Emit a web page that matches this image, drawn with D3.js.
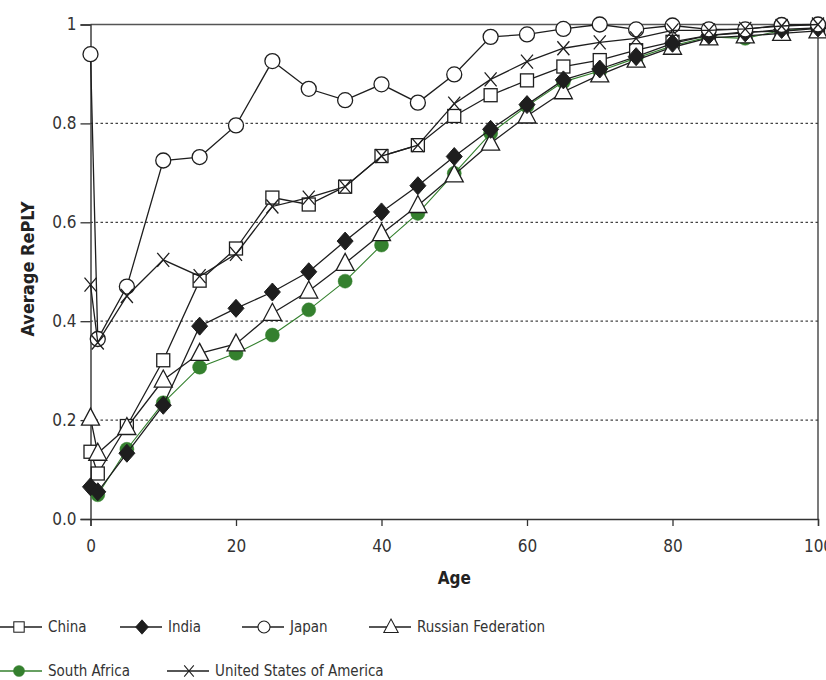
<!DOCTYPE html>
<html>
<head>
<meta charset="utf-8">
<script src="https://cdn.jsdelivr.net/npm/d3@7"></script>
<style>
  body { margin: 0; background: #fff; }
  svg { font-family: "Liberation Sans Narrow", "DejaVu Sans Condensed", "Arial Narrow", sans-serif; }
</style>
</head>
<body>
<svg id="canvas" width="826" height="680"></svg>
<script>
// ages on the x axis
const ages = [0, 1, 5, 10, 15, 20, 25, 30, 35, 40, 45, 50, 55, 60, 65, 70, 75, 80, 85, 90, 95, 100]
const xTicks = [0, 20, 40, 60, 80, 100]
const yTicks = [0, 0.2, 0.4, 0.6, 0.8, 1]
const yTickLabels = ['0.0', '0.2', '0.4', '0.6', '0.8', '1']

const china = [0.136, 0.092, 0.188, 0.321, 0.482, 0.547, 0.650, 0.636, 0.672, 0.734, 0.756, 0.815, 0.857, 0.887, 0.915, 0.928, 0.948, 0.965, 0.978, 0.985, 0.986, 0.992]
const india = [0.065, 0.055, 0.133, 0.230, 0.390, 0.426, 0.459, 0.500, 0.562, 0.621, 0.674, 0.733, 0.788, 0.838, 0.888, 0.910, 0.935, 0.962, 0.978, 0.983, 0.990, 0.993]
const japan = [0.940, 0.364, 0.470, 0.725, 0.732, 0.796, 0.926, 0.870, 0.847, 0.879, 0.842, 0.899, 0.975, 0.980, 0.991, 1.000, 0.990, 0.998, 0.990, 0.990, 0.999, 1.000]
const russia = [0.204, 0.133, 0.185, 0.281, 0.335, 0.354, 0.416, 0.461, 0.517, 0.577, 0.634, 0.696, 0.760, 0.815, 0.864, 0.898, 0.928, 0.954, 0.973, 0.977, 0.982, 0.987]
const southAfrica = [null, 0.049, 0.141, 0.235, 0.307, 0.335, 0.372, 0.423, 0.481, 0.554, 0.618, 0.699, 0.780, 0.835, 0.884, 0.906, 0.932, 0.957, 0.975, 0.972, 0.988, 0.993]
const usa = [0.474, 0.357, 0.451, 0.524, 0.491, 0.536, 0.632, 0.650, 0.672, 0.734, 0.756, 0.840, 0.889, 0.925, 0.952, 0.964, 0.972, 0.988, 0.988, 0.991, 0.997, 1.000]

const seriesNames = ['China', 'India', 'Japan', 'Russian Federation', 'South Africa', 'United States of America']

const green = '#34802e'
const ink = '#1e1e1e'

// draw order: bottom first
const series = [
    {name: 'South Africa', values: southAfrica, sym: 'circle', fill: green, stroke: green, line: green},
    {name: 'China', values: china, sym: 'square', fill: '#fff', stroke: ink, line: ink},
    {name: 'Russian Federation', values: russia, sym: 'triangle', fill: '#fff', stroke: ink, line: ink},
    {name: 'India', values: india, sym: 'diamond', fill: ink, stroke: ink, line: ink},
    {name: 'Japan', values: japan, sym: 'circle', fill: '#fff', stroke: ink, line: ink},
    {name: 'United States of America', values: usa, sym: 'cross', fill: 'none', stroke: ink, line: ink}
]
const byName = {}
series.forEach(s => byName[s.name] = s)

const svg = d3.select('#canvas')
const x = d3.scaleLinear().domain([0, 100]).range([90.5, 818])
const y = d3.scaleLinear().domain([0, 1]).range([519, 24.5])

// dotted gridlines
svg.append('g').selectAll('line')
    .data(yTicks.filter(t => t > 0 && t < 1))
    .enter().append('line')
    .attr('x1', x(0)).attr('x2', x(100))
    .attr('y1', d => y(d)).attr('y2', d => y(d))
    .attr('stroke', '#444').attr('stroke-width', 1.2)
    .attr('stroke-dasharray', '2.5,2.5')

// frame top & right
svg.append('line').attr('x1', x(0)).attr('x2', x(100)).attr('y1', y(1)).attr('y2', y(1))
    .attr('stroke', '#555').attr('stroke-width', 1.6)
svg.append('line').attr('x1', x(100)).attr('x2', x(100)).attr('y1', y(1)).attr('y2', y(0))
    .attr('stroke', '#333').attr('stroke-width', 1.3)

// axes
const xAxis = svg.append('g').attr('transform', `translate(0,${y(0)})`)
    .call(d3.axisBottom(x).tickValues(xTicks).tickSize(7).tickPadding(13))
const yAxis = svg.append('g').attr('transform', `translate(${x(0)},0)`)
    .call(d3.axisLeft(y).tickValues(yTicks).tickSize(10).tickPadding(4)
        .tickFormat((d, i) => yTickLabels[i]))
;[xAxis, yAxis].forEach(a => {
    a.select('.domain').attr('stroke', '#333').attr('stroke-width', 1.4)
    a.selectAll('.tick line').attr('stroke', '#333').attr('stroke-width', 1.3)
    a.selectAll('.tick text').attr('fill', '#333').style('font-size', '17px')
        .style('font-family', '"Liberation Sans Narrow", "DejaVu Sans Condensed", sans-serif')
})
xAxis.selectAll('.tick text').attr('dy', '0.75em')

// axis titles
svg.append('text').attr('x', x(50)).attr('y', 584).attr('text-anchor', 'middle')
    .style('font-size', '17px').style('font-weight', 'bold').attr('fill', '#222').text('Age')
svg.append('text').attr('transform', `translate(34,269) rotate(-90)`)
    .attr('text-anchor', 'middle')
    .style('font-size', '18px').style('font-weight', 'bold').attr('fill', '#222').text('Average RePLY')

const drawMarker = (g, s) => {
    if (s.sym === 'cross') {
        g.append('path').attr('d', 'M-6,-7L6,7M-6,7L6,-7')
            .attr('stroke', s.stroke).attr('stroke-width', 1.3).attr('fill', 'none')
    } else if (s.sym === 'diamond') {
        g.append('path').attr('d', 'M0,-9L8,0L0,9L-8,0Z')
            .attr('fill', s.fill).attr('stroke', s.stroke).attr('stroke-width', 1)
    } else if (s.sym === 'triangle') {
        g.append('path').attr('d', 'M0,-10L9,7L-9,7Z')
            .attr('fill', s.fill).attr('stroke', s.stroke).attr('stroke-width', 1.3)
    } else if (s.sym === 'square') {
        g.append('rect').attr('x', -6.5).attr('y', -6.5).attr('width', 13).attr('height', 13)
            .attr('fill', s.fill).attr('stroke', s.stroke).attr('stroke-width', 1.3)
    } else {
        g.append('circle').attr('r', s.fill === '#fff' ? 7.5 : 7)
            .attr('fill', s.fill).attr('stroke', s.stroke).attr('stroke-width', s.fill === '#fff' ? 1.3 : 0.5)
    }
}

const line = d3.line().defined(d => d[1] != null).x(d => x(d[0])).y(d => y(d[1]))

series.forEach(s => {
    const pts = ages.map((a, i) => [a, s.values[i]])
    const g = svg.append('g').attr('class', 'series')
    g.append('path').datum(pts).attr('d', line)
        .attr('fill', 'none').attr('stroke', s.line).attr('stroke-width', s.name === 'South Africa' ? 1.1 : 1.3)
    g.selectAll('g.pt').data(pts.filter(d => d[1] != null)).enter().append('g').attr('class', 'pt')
        .attr('transform', d => `translate(${x(d[0])},${y(d[1])})`)
        .each(function () { drawMarker(d3.select(this), s) })
})

// legend
const legendPos = [[0, 627], [120, 627], [242, 627], [369, 627], [0, 671], [167, 671]]
seriesNames.forEach((name, i) => {
    const s = byName[name]
    const [lx, ly] = legendPos[i]
    const g = svg.append('g').attr('transform', `translate(${lx},${ly})`)
    g.append('line').attr('x1', lx === 0 ? -5 : 0).attr('x2', 42).attr('y1', 0).attr('y2', 0)
        .attr('stroke', s.line).attr('stroke-width', 1.3)
    const mx = lx === 0 ? 19 : 22
    const m = g.append('g').attr('transform', `translate(${mx},0) scale(0.8)`)
    drawMarker(m, s)
    g.append('text').attr('x', 48).attr('y', 0).attr('dy', '0.35em')
        .style('font-size', '15px').attr('fill', '#333').text(name)
})
</script>
</body>
</html>
